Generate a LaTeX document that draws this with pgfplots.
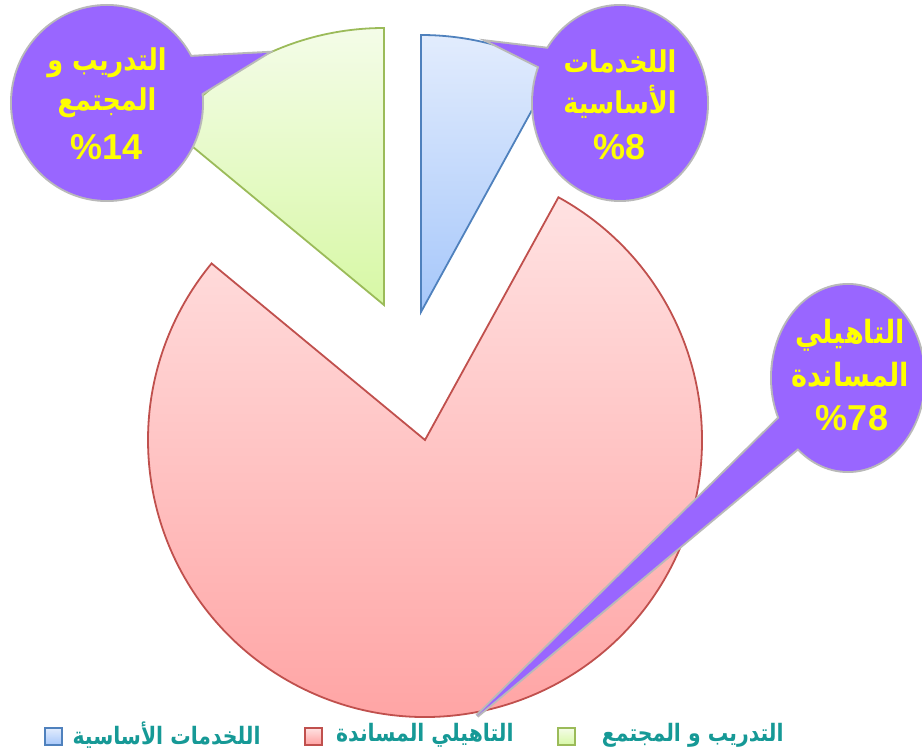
\documentclass[border=0pt]{standalone}
\usepackage{pgfplots}
\pgfplotsset{compat=1.18}
\usepackage{pgfplotstable}
\usepackage{fontspec}
\setmainfont{Liberation Sans}
\newfontfamily\arabicfont[Script=Arabic, FakeStretch=0.85]{DejaVu Sans}
\TeXXeTstate=1

\definecolor{blueedge}{RGB}{79,129,189}
\definecolor{bluetop}{RGB}{226,236,253}
\definecolor{bluebot}{RGB}{166,199,250}
\definecolor{rededge}{RGB}{192,80,77}
\definecolor{redtop}{RGB}{255,226,226}
\definecolor{redbot}{RGB}{255,160,160}
\definecolor{greenedge}{RGB}{155,187,89}
\definecolor{greentop}{RGB}{244,252,232}
\definecolor{greenbot}{RGB}{215,248,165}
\definecolor{calloutfill}{RGB}{153,102,255}
\definecolor{calloutedge}{RGB}{185,185,185}
\definecolor{labelyellow}{RGB}{255,255,0}
\definecolor{legendtext}{RGB}{22,153,150}

% share in %, and the exploded centre of each slice (x, y in px, y down)
\pgfplotstableread{
value cx  cy
8     421 312
78    425 440
14    384 305
}\piedata

\newcommand\getval[3]{\pgfplotstablegetelem{#1}{#2}\of\piedata\xdef#3{\pgfplotsretval}}
\newcommand\rad{138.5pt}

\begin{document}%
\getval{0}{value}\vA\getval{0}{cx}\xA\getval{0}{cy}\yA%
\getval{1}{value}\vB\getval{1}{cx}\xB\getval{1}{cy}\yB%
\getval{2}{value}\vC\getval{2}{cx}\xC\getval{2}{cy}\yC%
\pgfmathsetmacro\aA{90-3.6*\vA}%
\pgfmathsetmacro\aB{\aA-3.6*\vB}%
\pgfmathsetmacro\aC{\aB-3.6*\vC}%
\begin{tikzpicture}
\begin{axis}[
    x=0.5pt, y=0.5pt,
    xmin=0, xmax=922, ymin=0, ymax=754,
    y dir=reverse,
    hide axis
    ]
    % slices
    \path[draw=blueedge, line width=0.9pt, top color=bluetop, bottom color=bluebot]
        (axis cs:\xA,\yA) -- ++(90:\rad) arc[start angle=90, end angle=\aA, radius=\rad] -- cycle;
    \path[draw=rededge, line width=0.9pt, top color=redtop, bottom color=redbot]
        (axis cs:\xB,\yB) -- ++(\aA:\rad) arc[start angle=\aA, end angle=\aB, radius=\rad] -- cycle;
    \path[draw=greenedge, line width=0.9pt, top color=greentop, bottom color=greenbot]
        (axis cs:\xC,\yC) -- ++(\aB:\rad) arc[start angle=\aB, end angle=\aC, radius=\rad] -- cycle;

    % callouts: outline first, then fill
    \draw[calloutedge, line width=2pt] (axis cs:267,53) -- (axis cs:150,59) -- (axis cs:160,119) -- cycle;
    \draw[calloutedge, line width=2pt] (axis cs:107,103) ellipse[x radius=47.5pt, y radius=48.5pt];
    \draw[calloutedge, line width=2pt] (axis cs:490,42) -- (axis cs:600,55) -- (axis cs:590,92) -- cycle;
    \draw[calloutedge, line width=2pt] (axis cs:620,103) ellipse[x radius=43.5pt, y radius=48.5pt];
    \draw[calloutedge, line width=2pt] (axis cs:477,716) -- (axis cs:830,368) -- (axis cs:840,413) -- cycle;
    \draw[calloutedge, line width=2pt] (axis cs:848,378) ellipse[x radius=38pt, y radius=46.5pt];
    \fill[calloutfill] (axis cs:267,53) -- (axis cs:150,59) -- (axis cs:160,119) -- cycle;
    \fill[calloutfill] (axis cs:107,103) ellipse[x radius=47.5pt, y radius=48.5pt];
    \fill[calloutfill] (axis cs:490,42) -- (axis cs:600,55) -- (axis cs:590,92) -- cycle;
    \fill[calloutfill] (axis cs:620,103) ellipse[x radius=43.5pt, y radius=48.5pt];
    \fill[calloutfill] (axis cs:477,716) -- (axis cs:830,368) -- (axis cs:840,413) -- cycle;
    \fill[calloutfill] (axis cs:848,378) ellipse[x radius=38pt, y radius=46.5pt];

    % callout texts
    \begin{scope}[every node/.style={text=labelyellow, inner sep=0pt}]
    \node[font=\arabicfont\bfseries\fontsize{15}{18}\selectfont] at (axis cs:107,63) {\beginR التدريب و\endR};
    \node[font=\arabicfont\bfseries\fontsize{15}{18}\selectfont] at (axis cs:107,103) {\beginR المجتمع\endR};
    \node[font=\bfseries\fontsize{18}{20}\selectfont] at (axis cs:107,147) {\%14};
    \node[font=\arabicfont\bfseries\fontsize{15}{18}\selectfont] at (axis cs:620,62) {\beginR اللخدمات\endR};
    \node[font=\arabicfont\bfseries\fontsize{15}{18}\selectfont] at (axis cs:620,102) {\beginR الأساسية\endR};
    \node[font=\bfseries\fontsize{18}{20}\selectfont] at (axis cs:620,147) {\%8};
    \node[font=\arabicfont\bfseries\fontsize{16}{18}\selectfont] at (axis cs:850,335) {\beginR التاهيلي\endR};
    \node[font=\arabicfont\bfseries\fontsize{16}{18}\selectfont] at (axis cs:850,375) {\beginR المساندة\endR};
    \node[font=\bfseries\fontsize{18}{20}\selectfont] at (axis cs:852,418) {\%78};
    \end{scope}

    % legend
    \path[draw=blueedge, line width=0.8pt, top color=bluetop, bottom color=bluebot] (axis cs:45,728) rectangle (axis cs:62,745);
    \path[draw=rededge, line width=0.8pt, top color=redtop, bottom color=redbot] (axis cs:305,728) rectangle (axis cs:322,745);
    \path[draw=greenedge, line width=0.8pt, top color=greentop, bottom color=greenbot] (axis cs:558,728) rectangle (axis cs:575,745);
    \begin{scope}[every node/.style={text=legendtext, inner sep=0pt, anchor=east,
        font=\arabicfont\bfseries\fontsize{12}{14}\selectfont}]
    \node at (axis cs:261,735) {\beginR اللخدمات الأساسية\endR};
    \node at (axis cs:514,735) {\beginR التاهيلي المساندة\endR};
    \node at (axis cs:784,735) {\beginR التدريب و المجتمع\endR};
    \end{scope}
\end{axis}
\pgfresetboundingbox
\path (current axis.south west) rectangle (current axis.north east);
\end{tikzpicture}%
\end{document}
